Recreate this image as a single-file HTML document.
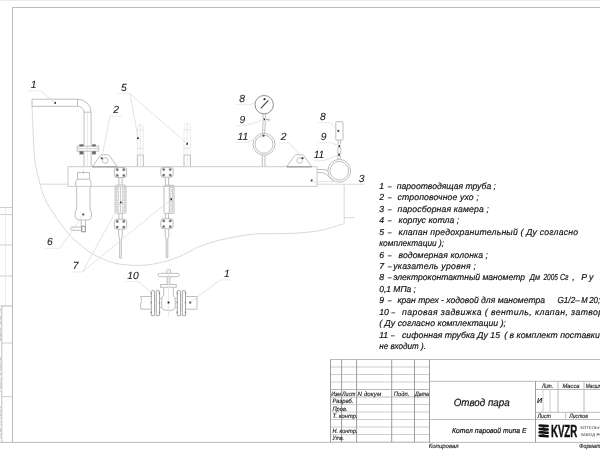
<!DOCTYPE html>
<html lang="ru"><head><meta charset="utf-8"><title>Отвод пара</title>
<style>
html,body{margin:0;padding:0;background:#fff;}
body{width:600px;height:450px;overflow:hidden;}
svg{display:block;will-change:transform;}
text{text-rendering:geometricPrecision;}
.ln{stroke:#bebebe;stroke-width:1;fill:none;}
.ch{stroke:#cbcbcb;stroke-width:1;fill:none;}
.ld{stroke:#cecece;stroke-width:1;fill:none;}
.hu{stroke:#d9d9d9;stroke-width:1;fill:none;}
.vf{stroke:#e6e6e6;stroke-width:.8;fill:none;}
.fr{stroke:#bababa;stroke-width:1;fill:none;}
.tv{stroke:#9c9c9c;stroke-width:1;fill:none;}
.md{stroke:#9a9a9a;stroke-width:.9;fill:none;}
.dk{stroke:#808080;stroke-width:.9;fill:none;}
.ul{stroke:#e6e6e6;stroke-width:.8;fill:none;}
.le{stroke:#dcdcdc;stroke-width:.8;fill:none;}
.dot{fill:#111;}
.lg{fill:#111;}
.bl{fill:#686868;stroke:#909090;stroke-width:.4;}
.bl2{fill:#888;}
.nd{stroke:#444;stroke-width:1.1;}
text{font-family:"Liberation Sans",sans-serif;font-style:italic;fill:#333;}
.t{font-size:8.7px;fill:#111;stroke:#111;stroke-width:.18;}
.lb{font-size:10.3px;fill:#1c1c1c;stroke:#1c1c1c;stroke-width:.1;text-anchor:middle;}
.ts{font-size:6.1px;fill:#222;stroke:#222;stroke-width:.15;}
.tt{font-size:10.5px;fill:#111;stroke:#111;stroke-width:.2;}
.tr{font-size:5.6px;fill:#aaa;}
.tm{font-size:7.2px;fill:#111;stroke:#111;stroke-width:.2;}
.kv{font-size:17.6px;font-style:normal;font-weight:bold;fill:#111;stroke:#111;stroke-width:.45;}
.kz{font-size:4.1px;font-style:normal;fill:#2a2a2a;letter-spacing:.22px;}
.sp{stroke:#111;stroke-width:2.5;stroke-linecap:round;}
.sp2{stroke:#111;stroke-width:.8;}
</style></head><body>
<svg width="600" height="450" viewBox="0 0 600 450">
<path class="hu" d="M32,106.3 C32.2,110.2 32.6,121.9 33,130 C33.4,138.1 33.7,148.3 34.3,155 C34.9,161.7 35.5,164.2 36.7,170 C37.9,175.8 40.1,184.7 41.7,190 C43.3,195.3 44.6,198.2 46.5,202 C48.4,205.8 50.9,209.3 53.3,213 C55.7,216.7 58.3,220.3 61,224 C63.7,227.7 66.5,231.6 69.7,235 C72.9,238.4 76.2,241.4 80,244.5 C83.8,247.6 87.6,250.9 92.3,253.7 C97.0,256.5 103.6,259.4 108.3,261.2 C113.0,262.9 115.8,263.5 120.3,264.2 C124.8,264.9 130.4,265.3 135,265.4 C139.6,265.5 144.3,265.1 148,264.8 C151.7,264.5 153.8,263.9 157,263.3 C160.2,262.7 163.7,261.9 167,261 C170.3,260.1 173.2,259.2 177,257.6 C180.8,256.0 186.2,253.2 190,251.3 C193.8,249.4 195.0,248.2 200,246.3 C205.0,244.4 211.7,242.0 220,240 C228.3,238.0 241.7,235.6 250,234.5 C258.3,233.4 262.5,233.9 270,233.7 C277.5,233.5 286.7,233.7 295,233.2 C303.3,232.7 311.8,232.1 320,230.5 C328.2,228.9 340.2,224.8 344.2,223.7"/>
<line class="hu" x1="39.8" y1="184.2" x2="68" y2="184.2"/>
<line class="hu" x1="344.2" y1="184.3" x2="344.2" y2="223.7"/>
<path class="hu" d="M344.2,217.8 H351 Q353.5,217.7 354.5,217"/>
<line class="hu" x1="316.7" y1="184.3" x2="364" y2="184.3"/>
<path class="ln" d="M77.5,99.2 H32 V106.3 H77.5 M77.5,99.2 V106.3 M77.5,99.2 A13.6,13 0 0 1 91.1,112.2 M77.5,106.3 A6.5,5.9 0 0 1 84,112.2 M84,112.2 H91.1 M84,112.2 V146.2 M91.1,112.2 V146.2 M84,151.2 V166.5 M91.1,151.2 V166.5"/>
<line class="vf" x1="87.5" y1="113" x2="87.5" y2="166"/>
<rect class="ln" x="77.2" y="146.2" width="21.5" height="5"/>
<line class="ld" x1="77.2" y1="148.7" x2="98.7" y2="148.7"/>
<rect class="bl" x="79.7" y="144.4" width="3.6" height="1.8"/>
<rect class="bl" x="79.7" y="151.2" width="3.6" height="3"/>
<rect class="bl" x="92.2" y="144.4" width="3.6" height="1.8"/>
<rect class="bl" x="92.2" y="151.2" width="3.6" height="3"/>
<rect class="ch" x="68" y="166.7" width="249" height="19.7"/>
<path class="ln" d="M92.5,166.5 L100.2,155.6 Q100.8,154.7 101.8,154.7 H107.8 Q108.8,154.7 109.39999999999999,155.6 L117.1,166.5"/>
<line class="dk" x1="92.3" y1="166.9" x2="117.3" y2="166.9"/>
<circle class="ln" cx="105.3" cy="160.5" r="2.8"/>
<path class="ln" d="M286.9,166.5 L294.59999999999997,155.6 Q295.2,154.7 296.2,154.7 H302.2 Q303.2,154.7 303.8,155.6 L311.5,166.5"/>
<line class="dk" x1="286.7" y1="166.9" x2="311.7" y2="166.9"/>
<circle class="ln" cx="299.7" cy="160.5" r="2.8"/>
<path class="ln" d="M137.4,166.5 V155 M143.3,166.5 V155 M137.4,155 H143.3"/>
<path class="le" stroke-dasharray="1.6 .7" d="M137.4,155 V127.15 A2.950000000000003,2.950000000000003 0 0 1 143.3,127.15 V155"/>
<line class="le" x1="137.4" y1="130" x2="143.3" y2="130"/>
<line class="le" x1="137.4" y1="148.3" x2="143.3" y2="148.3"/>
<line class="vf" x1="140.35000000000002" y1="124.2" x2="140.35000000000002" y2="166"/>
<path class="ln" d="M184,166.5 V155 M190.4,166.5 V155 M184,155 H190.4"/>
<path class="le" stroke-dasharray="1.6 .7" d="M184,155 V126.5 A3.200000000000003,3.200000000000003 0 0 1 190.4,126.5 V155"/>
<line class="le" x1="184" y1="130" x2="190.4" y2="130"/>
<line class="le" x1="184" y1="148.3" x2="190.4" y2="148.3"/>
<line class="vf" x1="187.2" y1="123.3" x2="187.2" y2="166"/>
<path class="ln" d="M77.5,179.2 V172.5 H89.5 V179.2 M77.5,179.2 H89.5 M77.5,179.2 Q75.3,181 75.6,184 Q75.8,186.5 76.7,187.5 V209 Q74.6,212 75,216 Q75.5,220 79,220 H88 Q91.3,220 91.6,216 Q92,212 90,209 V187.5 Q91,186.5 91.2,184 Q91.5,181 89.5,179.2 M81.2,220 V225.8 M85.5,220 V225.8"/>
<line class="ld" x1="83.5" y1="170" x2="83.5" y2="174"/>
<rect class="ln" x="70.8" y="227" width="10.9" height="3.3" rx="1"/>
<rect class="dk" x="81.7" y="226.2" width="3.6" height="5.6"/>
<rect class="ln" x="114.3" y="167.5" width="12.4" height="10" rx="2.5"/>
<rect class="bl" x="116.10000000000001" y="168.6" width="2.2" height="2.2" rx=".6"/>
<rect class="bl" x="116.10000000000001" y="174.3" width="2.2" height="2.2" rx=".6"/>
<rect class="bl" x="122.7" y="168.6" width="2.2" height="2.2" rx=".6"/>
<rect class="bl" x="122.7" y="174.3" width="2.2" height="2.2" rx=".6"/>
<path class="ln" d="M118.9,177.5 V185 M122.1,177.5 V185"/>
<rect class="ln" x="115.1" y="185" width="10.8" height="28.3" rx="1.5"/>
<rect class="ld" x="116.4" y="187.6" width="2.2" height="2"/>
<rect class="ld" x="122.4" y="187.6" width="2.2" height="2"/>
<rect class="ld" x="116.4" y="191.29999999999998" width="2.2" height="2"/>
<rect class="ld" x="122.4" y="191.29999999999998" width="2.2" height="2"/>
<rect class="ld" x="116.4" y="195.0" width="2.2" height="2"/>
<rect class="ld" x="122.4" y="195.0" width="2.2" height="2"/>
<rect class="ld" x="116.4" y="198.7" width="2.2" height="2"/>
<rect class="ld" x="122.4" y="198.7" width="2.2" height="2"/>
<rect class="ld" x="116.4" y="202.4" width="2.2" height="2"/>
<rect class="ld" x="122.4" y="202.4" width="2.2" height="2"/>
<rect class="ld" x="116.4" y="206.1" width="2.2" height="2"/>
<rect class="ld" x="122.4" y="206.1" width="2.2" height="2"/>
<rect class="ld" x="116.4" y="209.8" width="2.2" height="2"/>
<rect class="ld" x="122.4" y="209.8" width="2.2" height="2"/>
<line class="ld" x1="120.5" y1="186" x2="120.5" y2="212.5"/>
<path class="ln" d="M118.9,213.3 V219.2 M122.1,213.3 V219.2"/>
<rect class="ln" x="114.3" y="219.2" width="12.4" height="10" rx="2.5"/>
<rect class="bl" x="116.10000000000001" y="220.29999999999998" width="2.2" height="2.2" rx=".6"/>
<rect class="bl" x="116.10000000000001" y="226.0" width="2.2" height="2.2" rx=".6"/>
<rect class="bl" x="122.7" y="220.29999999999998" width="2.2" height="2.2" rx=".6"/>
<rect class="bl" x="122.7" y="226.0" width="2.2" height="2.2" rx=".6"/>
<path class="ln" d="M118.7,229.2 V236.2 L119.7,239.2 V258.2 H121.3 V239.2 L122.3,236.2 V229.2"/>
<rect class="ln" x="160.8" y="167.3" width="12.4" height="10" rx="2.5"/>
<rect class="bl" x="162.6" y="168.4" width="2.2" height="2.2" rx=".6"/>
<rect class="bl" x="162.6" y="174.10000000000002" width="2.2" height="2.2" rx=".6"/>
<rect class="bl" x="169.20000000000002" y="168.4" width="2.2" height="2.2" rx=".6"/>
<rect class="bl" x="169.20000000000002" y="174.10000000000002" width="2.2" height="2.2" rx=".6"/>
<path class="ln" d="M165.4,177.3 V185.3 M168.6,177.3 V185.3"/>
<rect class="ln" x="164" y="185.3" width="10" height="28" rx="0.8"/>
<line class="ln" x1="169.3" y1="185.3" x2="169.3" y2="213.3"/>
<line class="ld" x1="172.7" y1="186" x2="172.7" y2="212.6"/>
<line class="ld" x1="169.3" y1="187.6" x2="172.7" y2="187.6"/>
<line class="ld" x1="169.3" y1="189.6" x2="172.7" y2="189.6"/>
<line class="ld" x1="169.3" y1="191.29999999999998" x2="172.7" y2="191.29999999999998"/>
<line class="ld" x1="169.3" y1="193.29999999999998" x2="172.7" y2="193.29999999999998"/>
<line class="ld" x1="169.3" y1="195.0" x2="172.7" y2="195.0"/>
<line class="ld" x1="169.3" y1="197.0" x2="172.7" y2="197.0"/>
<line class="ld" x1="169.3" y1="198.7" x2="172.7" y2="198.7"/>
<line class="ld" x1="169.3" y1="200.7" x2="172.7" y2="200.7"/>
<line class="ld" x1="169.3" y1="202.4" x2="172.7" y2="202.4"/>
<line class="ld" x1="169.3" y1="204.4" x2="172.7" y2="204.4"/>
<line class="ld" x1="169.3" y1="206.1" x2="172.7" y2="206.1"/>
<line class="ld" x1="169.3" y1="208.1" x2="172.7" y2="208.1"/>
<line class="ld" x1="169.3" y1="209.8" x2="172.7" y2="209.8"/>
<line class="ld" x1="169.3" y1="211.8" x2="172.7" y2="211.8"/>
<path class="ln" d="M165.4,213.3 V218.7 M168.6,213.3 V218.7"/>
<rect class="ln" x="160.8" y="218.7" width="12.4" height="10" rx="2.5"/>
<rect class="bl" x="162.6" y="219.79999999999998" width="2.2" height="2.2" rx=".6"/>
<rect class="bl" x="162.6" y="225.5" width="2.2" height="2.2" rx=".6"/>
<rect class="bl" x="169.20000000000002" y="219.79999999999998" width="2.2" height="2.2" rx=".6"/>
<rect class="bl" x="169.20000000000002" y="225.5" width="2.2" height="2.2" rx=".6"/>
<path class="ln" d="M165.2,228.7 V235.7 L166.2,238.7 V257.7 H167.8 V238.7 L168.8,235.7 V228.7"/>
<circle class="dk" cx="264.2" cy="104.7" r="9.2"/>
<line class="nd" x1="260.8" y1="108.3" x2="268.3" y2="100.3"/>
<path class="ln" d="M263,113.8 V118.3 M265.4,113.8 V118.3"/>
<path class="dk" d="M266,119.6 H269.5"/>
<circle class="ld" cx="268.8" cy="120.2" r="1"/>
<path class="ln" d="M263,121 L262.6,134.3 M265.4,121 L264.6,134.3"/>
<circle class="ln" cx="264" cy="144.3" r="11"/>
<circle class="ln" cx="264" cy="144.3" r="9"/>
<path class="ln" d="M262.3,155.2 V166.5 M265,155.2 V166.5"/>
<rect class="ln" x="335.8" y="121.7" width="7.2" height="18.3" rx="0.8"/>
<path class="ln" d="M338.2,140 V143.8 M340.6,140 V143.8 M337.8,147.5 V153.5 M340.8,147.5 V153.5 M337.8,147.5 H340.8 M337.8,153.5 H340.8"/>
<path class="ln" d="M337.9,155.5 V159.6 M340.3,155.5 V159.6"/>
<circle class="ln" cx="339.3" cy="170.8" r="11.4"/>
<circle class="ln" cx="339.3" cy="170.8" r="9.3"/>
<path class="ln" d="M317,169.5 H323 Q326.5,169.7 328,171 M317,172.6 H322 Q325.5,172.8 328.3,176 Q331,179.5 334,181"/>
<line class="le" x1="317" y1="181.6" x2="336" y2="181.6"/>
<path class="ln" d="M140.5,296.5 H151.3 M140.5,309.2 H151.3 M140.5,296.5 Q142.5,299.5 141,302.8 Q139.6,306 141.3,309.2"/>
<path class="ln" d="M185.3,296.5 H197 V309.2 H185.3"/>
<rect class="md" x="151.3" y="290.7" width="3.2" height="25" rx="0.6"/>
<rect class="md" x="156.3" y="290.7" width="3.2" height="25" rx="0.6"/>
<rect class="bl2" x="150.6" y="292.5" width="1.4" height="1.6"/>
<rect class="bl2" x="158.8" y="292.5" width="1.4" height="1.6"/>
<line class="vf" x1="154.5" y1="293.3" x2="156.3" y2="293.3"/>
<rect class="bl2" x="150.6" y="301.7" width="1.4" height="1.6"/>
<rect class="bl2" x="158.8" y="301.7" width="1.4" height="1.6"/>
<line class="vf" x1="154.5" y1="302.5" x2="156.3" y2="302.5"/>
<rect class="bl2" x="150.6" y="311.6" width="1.4" height="1.6"/>
<rect class="bl2" x="158.8" y="311.6" width="1.4" height="1.6"/>
<line class="vf" x1="154.5" y1="312.4" x2="156.3" y2="312.4"/>
<rect class="md" x="177.3" y="290.7" width="3.2" height="25" rx="0.6"/>
<rect class="md" x="182.3" y="290.7" width="3.2" height="25" rx="0.6"/>
<rect class="bl2" x="176.6" y="292.5" width="1.4" height="1.6"/>
<rect class="bl2" x="184.8" y="292.5" width="1.4" height="1.6"/>
<line class="vf" x1="180.5" y1="293.3" x2="182.3" y2="293.3"/>
<rect class="bl2" x="176.6" y="301.7" width="1.4" height="1.6"/>
<rect class="bl2" x="184.8" y="301.7" width="1.4" height="1.6"/>
<line class="vf" x1="180.5" y1="302.5" x2="182.3" y2="302.5"/>
<rect class="bl2" x="176.6" y="311.6" width="1.4" height="1.6"/>
<rect class="bl2" x="184.8" y="311.6" width="1.4" height="1.6"/>
<line class="vf" x1="180.5" y1="312.4" x2="182.3" y2="312.4"/>
<path class="ln" d="M159.5,298.5 H161.7 M175.3,298.5 H177.3 M159.5,307.5 H161.7 M175.3,307.5 H177.3"/>
<path class="ln" d="M163.7,287.3 V295 Q161.7,297 161.7,300 V306 Q161.7,310.3 166,310.3 H171 Q175.3,310.3 175.3,306 V300 Q175.3,297 173.3,295 V287.3"/>
<rect class="ln" x="160.5" y="284.5" width="15.7" height="2.8"/>
<path class="ln" d="M167.2,276.7 V284.5 M169.9,276.7 V284.5"/>
<rect class="ln" x="158" y="273.3" width="21.2" height="3.4" rx="1.7"/>
<rect class="ln" x="166.7" y="269.6" width="3.8" height="3.7" rx="0.8"/>
<line class="vf" x1="168.5" y1="268" x2="168.5" y2="316"/>
<rect class="dot" x="54.1" y="101.9" width="1.8" height="1.8"/>
<rect class="dot" x="100.8" y="157.4" width="1.8" height="1.8"/>
<rect class="dot" x="137.1" y="137.1" width="1.8" height="1.8"/>
<rect class="dot" x="186.1" y="142.8" width="1.8" height="1.8"/>
<rect class="dot" x="82.4" y="213.6" width="1.8" height="1.8"/>
<rect class="dot" x="119.9" y="201.6" width="1.8" height="1.8"/>
<rect class="dot" x="170.1" y="198.4" width="1.8" height="1.8"/>
<rect class="dot" x="263.6" y="98.3" width="1.8" height="1.8"/>
<rect class="dot" x="263.3" y="118.5" width="1.8" height="1.8"/>
<rect class="dot" x="262.5" y="134.7" width="1.8" height="1.8"/>
<rect class="dot" x="301.6" y="157.1" width="1.8" height="1.8"/>
<rect class="dot" x="337.4" y="129.9" width="1.8" height="1.8"/>
<rect class="dot" x="338.3" y="144.9" width="1.8" height="1.8"/>
<rect class="dot" x="338.0" y="153.9" width="1.8" height="1.8"/>
<rect class="dot" x="310.8" y="179.6" width="1.8" height="1.8"/>
<rect class="dot" x="167.6" y="301.6" width="1.8" height="1.8"/>
<rect class="dot" x="189.4" y="301.6" width="1.8" height="1.8"/>
<text class="lb" x="33.5" y="88.2">1</text>
<line class="ul" x1="27.5" y1="90.8" x2="40.8" y2="90.8"/>
<line class="le" x1="40.8" y1="90.8" x2="55" y2="102.8"/>
<text class="lb" x="116" y="112.9">2</text>
<line class="ul" x1="110" y1="116" x2="122" y2="116"/>
<line class="le" x1="110" y1="116" x2="101.7" y2="158.3"/>
<text class="lb" x="123.8" y="90.7">5</text>
<line class="ul" x1="117.5" y1="93.7" x2="130" y2="93.7"/>
<line class="le" x1="130" y1="93.7" x2="138" y2="138"/>
<line class="le" x1="130" y1="93.7" x2="187" y2="143.7"/>
<text class="lb" x="49.8" y="245.2">6</text>
<line class="ul" x1="45" y1="248.3" x2="60" y2="248.3"/>
<line class="le" x1="60" y1="248.3" x2="83.3" y2="214.5"/>
<text class="lb" x="75.5" y="269.1">7</text>
<line class="ul" x1="72.3" y1="272" x2="82.3" y2="272"/>
<line class="le" x1="82.3" y1="272" x2="120.8" y2="202.5"/>
<line class="le" x1="82.3" y1="272" x2="171" y2="199.3"/>
<text class="lb" x="133.1" y="279.0">10</text>
<line class="ul" x1="125" y1="281.6" x2="138.3" y2="281.6"/>
<line class="le" x1="138.3" y1="281.6" x2="151.7" y2="292.8"/>
<text class="lb" x="226.8" y="276.7">1</text>
<line class="ul" x1="220" y1="280" x2="230" y2="280"/>
<line class="le" x1="220" y1="280" x2="190.3" y2="302.5"/>
<text class="lb" x="242" y="102.0">8</text>
<line class="ul" x1="235.8" y1="104.7" x2="250" y2="104.7"/>
<line class="le" x1="250" y1="104.7" x2="255.3" y2="102.2"/>
<text class="lb" x="242.3" y="122.5">9</text>
<line class="ul" x1="235.8" y1="125.5" x2="246" y2="125.5"/>
<line class="le" x1="246" y1="125.5" x2="264.2" y2="119.4"/>
<text class="lb" x="242.8" y="139.5">11</text>
<line class="ul" x1="235.8" y1="142.2" x2="247.5" y2="142.2"/>
<line class="le" x1="247.5" y1="142.2" x2="263.4" y2="135.6"/>
<text class="lb" x="283.5" y="140.4">2</text>
<line class="ul" x1="278.3" y1="143" x2="289.2" y2="143"/>
<line class="le" x1="289.2" y1="143" x2="302.5" y2="158"/>
<text class="lb" x="322.8" y="120.4">8</text>
<line class="ul" x1="317.5" y1="122.5" x2="330" y2="122.5"/>
<line class="le" x1="330" y1="122.5" x2="338.3" y2="130.8"/>
<text class="lb" x="323.5" y="140.4">9</text>
<line class="ul" x1="317.5" y1="142.5" x2="330" y2="142.5"/>
<line class="le" x1="330" y1="142.5" x2="339.2" y2="145.8"/>
<text class="lb" x="319" y="158.4">11</text>
<line class="ul" x1="313.3" y1="160.5" x2="324.2" y2="160.5"/>
<line class="le" x1="324.2" y1="160.5" x2="338.9" y2="154.8"/>
<text class="lb" x="361.5" y="182.1">3</text>
<line class="ul" x1="318.7" y1="184.3" x2="364" y2="184.3"/>
<line class="le" x1="311.7" y1="180.5" x2="318.7" y2="184.3"/>
<line class="fr" x1="12" y1="7.45" x2="600" y2="7.45"/>
<line class="fr" x1="12.45" y1="7" x2="12.45" y2="442.4"/>
<line class="fr" x1="0" y1="442.4" x2="600" y2="442.4"/>
<line class="vf" x1="0" y1="0.5" x2="600" y2="0.5"/>
<line class="ld" x1="0" y1="207.5" x2="12.4" y2="207.5"/>
<line class="ld" x1="0" y1="214.6" x2="12.4" y2="214.6"/>
<line class="ld" x1="0" y1="245" x2="12.4" y2="245"/>
<line class="ld" x1="0" y1="276" x2="12.4" y2="276"/>
<line class="ld" x1="0" y1="306" x2="12.4" y2="306"/>
<line class="vf" x1="5.5" y1="207.5" x2="5.5" y2="306"/>
<line class="ln" x1="1.8" y1="306" x2="1.8" y2="442"/>
<line class="ld" x1="1.8" y1="306" x2="12.4" y2="306"/>
<line class="ld" x1="1.8" y1="343" x2="12.4" y2="343"/>
<line class="ld" x1="1.8" y1="396.7" x2="12.4" y2="396.7"/>
<text class="tr" transform="translate(1.3,438) rotate(-90)">Инв. N подл.</text>
<text class="tr" transform="translate(1.3,392) rotate(-90)">Подп. и дата</text>
<text class="tr" transform="translate(1.3,341) rotate(-90)">Взам. инв. N</text>
<line class="fr" x1="330.5" y1="359.5" x2="600" y2="359.5"/>
<line class="ld" x1="330.5" y1="367.0" x2="429.5" y2="367.0"/>
<line class="ld" x1="330.5" y1="374.5" x2="429.5" y2="374.5"/>
<line class="ld" x1="330.5" y1="382.0" x2="429.5" y2="382.0"/>
<line class="fr" x1="330.5" y1="389.5" x2="429.5" y2="389.5"/>
<line class="fr" x1="330.5" y1="397.0" x2="429.5" y2="397.0"/>
<line class="ld" x1="330.5" y1="404.5" x2="429.5" y2="404.5"/>
<line class="ld" x1="330.5" y1="412.0" x2="429.5" y2="412.0"/>
<line class="ld" x1="330.5" y1="419.5" x2="429.5" y2="419.5"/>
<line class="ld" x1="330.5" y1="427.0" x2="429.5" y2="427.0"/>
<line class="ld" x1="330.5" y1="434.5" x2="429.5" y2="434.5"/>
<line class="ld" x1="330.5" y1="442.0" x2="429.5" y2="442.0"/>
<line class="tv" x1="330.5" y1="359.5" x2="330.5" y2="442.4"/>
<line class="tv" x1="341.6" y1="359.5" x2="341.6" y2="442.4"/>
<line class="tv" x1="356.6" y1="359.5" x2="356.6" y2="442.4"/>
<line class="tv" x1="391.7" y1="359.5" x2="391.7" y2="442.4"/>
<line class="tv" x1="414.5" y1="359.5" x2="414.5" y2="442.4"/>
<line class="tv" x1="429.5" y1="359.5" x2="429.5" y2="442.4"/>
<line class="fr" x1="429.5" y1="381.3" x2="600" y2="381.3"/>
<line class="fr" x1="429.5" y1="419.5" x2="600" y2="419.5"/>
<line class="tv" x1="535.5" y1="381.3" x2="535.5" y2="442.4"/>
<line class="fr" x1="535.5" y1="389.5" x2="600" y2="389.5"/>
<line class="fr" x1="535.5" y1="412.3" x2="600" y2="412.3"/>
<line class="ld" x1="543" y1="389.5" x2="543" y2="412.3"/>
<line class="ld" x1="550" y1="389.5" x2="550" y2="412.3"/>
<line class="fr" x1="558" y1="381.3" x2="558" y2="412.3"/>
<line class="fr" x1="584" y1="381.3" x2="584" y2="412.3"/>
<line class="fr" x1="565.7" y1="412.3" x2="565.7" y2="419.5"/>
<text class="ts" x="331.2" y="396.4" textLength="9.8" lengthAdjust="spacingAndGlyphs">Изм</text>
<text class="ts" x="342" y="396.4" textLength="13.5" lengthAdjust="spacingAndGlyphs">Лист</text>
<text class="ts" x="357.6" y="396.4" textLength="23.5">N докум</text>
<text class="ts" x="393.8" y="396.4" textLength="15.5" lengthAdjust="spacingAndGlyphs">Подп.</text>
<text class="ts" x="415" y="396.4" textLength="14" lengthAdjust="spacingAndGlyphs">Дата</text>
<text class="ts" x="332.5" y="403.2" textLength="21" lengthAdjust="spacingAndGlyphs">Разраб.</text>
<text class="ts" x="332.5" y="410.7" textLength="15" lengthAdjust="spacingAndGlyphs">Пров.</text>
<text class="ts" x="332.5" y="418.2" textLength="25" lengthAdjust="spacingAndGlyphs">Т. контр.</text>
<text class="ts" x="332.5" y="433.2" textLength="25" lengthAdjust="spacingAndGlyphs">Н. контр.</text>
<text class="ts" x="332.5" y="440.3" textLength="11.5" lengthAdjust="spacingAndGlyphs">Утв.</text>
<text class="tt" x="453.7" y="406" textLength="56" lengthAdjust="spacingAndGlyphs">Отвод пара</text>
<text class="tm" x="452" y="433" textLength="74.5" lengthAdjust="spacingAndGlyphs">Котел паровой типа Е</text>
<text class="ts" x="542" y="387.9" textLength="11" lengthAdjust="spacingAndGlyphs">Лит.</text>
<text class="ts" x="562.5" y="387.9" textLength="17" lengthAdjust="spacingAndGlyphs">Масса</text>
<text class="ts" x="585.8" y="387.9" textLength="17" lengthAdjust="spacingAndGlyphs">Масшт</text>
<text class="tm" x="537" y="403.3">И</text>
<text class="ts" x="537.5" y="418.2" textLength="13.5" lengthAdjust="spacingAndGlyphs">Лист</text>
<text class="ts" x="569.3" y="418.2" textLength="18.5" lengthAdjust="spacingAndGlyphs">Листов</text>
<text class="ts" x="428.7" y="448.2" textLength="30" lengthAdjust="spacingAndGlyphs">Копировал</text>
<text class="ts" x="579.3" y="448.2" textLength="21" lengthAdjust="spacingAndGlyphs">Формат</text>
<line class="sp" x1="539.7" y1="425.5" x2="547.7" y2="426.0"/>
<line class="sp2" x1="547.7" y1="426.0" x2="539.7" y2="428.9"/>
<line class="sp" x1="539.7" y1="428.9" x2="547.7" y2="429.4"/>
<line class="sp2" x1="547.7" y1="429.4" x2="539.7" y2="432.3"/>
<line class="sp" x1="539.7" y1="432.3" x2="547.7" y2="432.8"/>
<line class="sp2" x1="547.7" y1="432.8" x2="539.7" y2="435.7"/>
<line class="sp" x1="539.7" y1="435.7" x2="547.7" y2="436.2"/>
<text class="kv" x="550.9" y="437.1" textLength="26.4" lengthAdjust="spacingAndGlyphs">KVZR</text>
<text class="kz" x="580.4" y="429.4">КОТЕЛЬНЫЙ</text>
<text class="kz" x="580.4" y="435.8">ЗАВОД РОССИИ</text>
<text class="t" x="379.2" y="189.0">1</text>
<text class="t" x="388" y="189.0" textLength="3.6" lengthAdjust="spacingAndGlyphs">–</text>
<text class="t" x="396.8" y="189.0" textLength="99.2" lengthAdjust="spacingAndGlyphs">пароотводящая труба ;</text>
<text class="t" x="379.2" y="200.43">2</text>
<text class="t" x="388" y="200.43" textLength="3.6" lengthAdjust="spacingAndGlyphs">–</text>
<text class="t" x="397.5" y="200.43" textLength="81.3">строповочное ухо ;</text>
<text class="t" x="379.2" y="211.86">3</text>
<text class="t" x="388" y="211.86" textLength="3.6" lengthAdjust="spacingAndGlyphs">–</text>
<text class="t" x="397.5" y="211.86" textLength="91.3">паросборная камера ;</text>
<text class="t" x="379.2" y="223.29">4</text>
<text class="t" x="388" y="223.29" textLength="3.6" lengthAdjust="spacingAndGlyphs">–</text>
<text class="t" x="398.5" y="223.29" textLength="60.7">корпус котла ;</text>
<text class="t" x="379.2" y="234.72">5</text>
<text class="t" x="388" y="234.72" textLength="3.6" lengthAdjust="spacingAndGlyphs">–</text>
<text class="t" x="398.5" y="234.72" textLength="179.5">клапан предохранительный ( Ду согласно</text>
<text class="t" x="379.2" y="246.15" textLength="64.8" lengthAdjust="spacingAndGlyphs">комплектации );</text>
<text class="t" x="379.2" y="257.58">6</text>
<text class="t" x="388" y="257.58" textLength="3.6" lengthAdjust="spacingAndGlyphs">–</text>
<text class="t" x="398.5" y="257.58" textLength="89.5">водомерная колонка ;</text>
<text class="t" x="379.2" y="269.01">7</text>
<text class="t" x="388" y="269.01" textLength="3.6" lengthAdjust="spacingAndGlyphs">–</text>
<text class="t" x="393.2" y="269.01" textLength="82.8">указатель уровня ;</text>
<text class="t" x="379.2" y="280.44">8</text>
<text class="t" x="388" y="280.44" textLength="3.6" lengthAdjust="spacingAndGlyphs">–</text>
<text class="t" x="393.2" y="280.44" textLength="131.8" lengthAdjust="spacingAndGlyphs">электроконтактный манометр</text>
<text class="t" x="529.7" y="280.44" textLength="10.3" lengthAdjust="spacingAndGlyphs">Дм</text>
<text class="t" x="543.5" y="280.44" textLength="14.5" lengthAdjust="spacingAndGlyphs">2005</text>
<text class="t" x="560" y="280.44" textLength="8.6" lengthAdjust="spacingAndGlyphs">Сг</text>
<text class="t" x="572.3" y="280.44">,</text>
<text class="t" x="581.3" y="280.44">Р</text>
<text class="t" x="589" y="280.44">у</text>
<text class="t" x="379.2" y="291.87" textLength="36.8" lengthAdjust="spacingAndGlyphs">0,1 МПа ;</text>
<text class="t" x="379.2" y="303.3">9</text>
<text class="t" x="388" y="303.3" textLength="3.6" lengthAdjust="spacingAndGlyphs">–</text>
<text class="t" x="397.5" y="303.3" textLength="147.5" lengthAdjust="spacingAndGlyphs">кран трех - ходовой для манометра</text>
<text class="t" x="557.5" y="303.3" textLength="22.2" lengthAdjust="spacingAndGlyphs">G1/2–</text>
<text class="t" x="581.2" y="303.3" textLength="6.4" lengthAdjust="spacingAndGlyphs">М</text>
<text class="t" x="589.2" y="303.3" textLength="11.0" lengthAdjust="spacingAndGlyphs">20;</text>
<text class="t" x="379.2" y="314.73">10</text>
<text class="t" x="391.5" y="314.73" textLength="3.6" lengthAdjust="spacingAndGlyphs">–</text>
<text class="t" x="402" y="314.73" textLength="204.5">паровая задвижка ( вентиль, клапан, затвор)</text>
<text class="t" x="379.2" y="326.16" textLength="126.8">( Ду согласно комплектации );</text>
<text class="t" x="379.2" y="337.59">11</text>
<text class="t" x="391" y="337.59" textLength="3.6" lengthAdjust="spacingAndGlyphs">–</text>
<text class="t" x="402" y="337.59" textLength="98" lengthAdjust="spacingAndGlyphs">сифонная трубка Ду 15</text>
<text class="t" x="504.2" y="337.59" textLength="95.6">( в комплект поставки</text>
<text class="t" x="379.2" y="349.02" textLength="46.8" lengthAdjust="spacingAndGlyphs">не входит ).</text>
</svg>
</body></html>
